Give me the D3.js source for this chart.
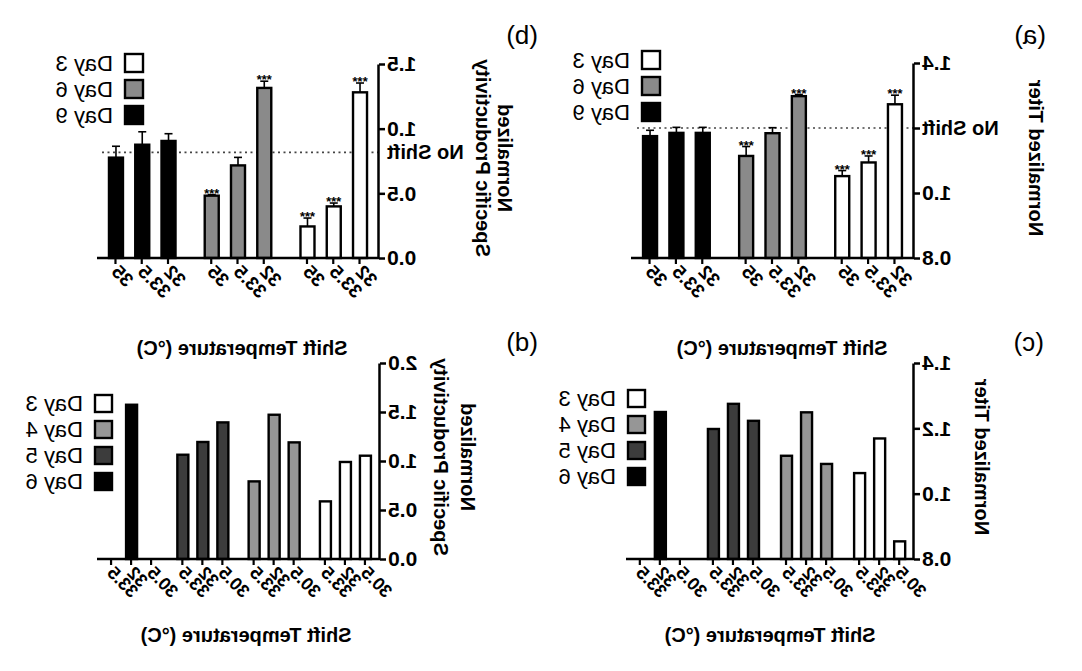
<!DOCTYPE html>
<html>
<head>
<meta charset="utf-8">
<script src="https://cdn.jsdelivr.net/npm/d3@7"></script>
<style>
  body { margin: 0; background: #fff; }
  svg text { font-family: Arial, "Liberation Sans", sans-serif; }
</style>
</head>
<body>
<div id="chart"></div>
<script>
// Env params
const W = 1082, H = 671;

// data: top row (error bars, 3 days)
const tempsTop = ["32", "33.5", "35"];
const daysTop = ["Day 3", "Day 6", "Day 9"];
const titerTop = [[1.273, 1.094, 1.052], [1.298, 1.184, 1.114], [1.185, 1.185, 1.175]];
const titerTopErr = [[0.028, 0.02, 0.017], [0.005, 0.017, 0.029], [0.017, 0.017, 0.018]];
const titerTopStar = [[1, 1, 1], [1, 0, 1], [0, 0, 0]];
const prodTop = [[1.281, 0.399, 0.244], [1.315, 0.716, 0.482], [0.905, 0.876, 0.776]];
const prodTopErr = [[0.072, 0.026, 0.065], [0.052, 0.062, 0.008], [0.056, 0.10, 0.088]];
const prodTopStar = [[1, 1, 1], [1, 0, 1], [0, 0, 0]];

// data: bottom row (4 days, no error bars)
const tempsBot = ["30.5", "32", "33.5"];
const daysBot = ["Day 3", "Day 4", "Day 5", "Day 6"];
const titerBot = [[0.854, 1.169, 1.063], [1.091, 1.249, 1.116], [1.223, 1.275, 1.198], [null, 1.25, null]];
const prodBot = [[1.054, 0.99, 0.588], [1.19, 1.472, 0.792], [1.394, 1.194, 1.064], [null, 1.574, null]];

const fillTop = ["#ffffff", "#8a8a8a", "#000000"];
const fillBot = ["#ffffff", "#969696", "#3c3c3c", "#000000"];

// draw svg canvas (the whole figure is mirrored left-right)
var svg = d3.select("#chart").append("svg")
  .attr("width", W)
  .attr("height", H)
  .style("background", "#fff");

var root = svg.append("g")
  .attr("transform", `translate(${W},0) scale(-1,1)`);

function draw_panel(cfg) {
  var g = root.append("g");

  var y = d3.scaleLinear().domain(cfg.domain).range([cfg.yBot, cfg.yTop]);
  var outer = d3.scaleBand().domain(cfg.days).range([cfg.x0, cfg.x1])
    .paddingInner(cfg.pi).paddingOuter(cfg.po);
  var inner = d3.scalePoint().domain(cfg.temps).range([0, outer.bandwidth()]).padding(0.5);

  // no shift line
  if (cfg.ns != null) {
    g.append("line")
      .attr("x1", cfg.x0).attr("x2", cfg.nsEnd)
      .attr("y1", y(cfg.ns)).attr("y2", y(cfg.ns))
      .attr("stroke", "#444").attr("stroke-width", 1.6)
      .attr("stroke-dasharray", "2,3.5");
  }

  cfg.days.forEach(function(day, i) {
    var gg = g.append("g").attr("transform", `translate(${outer(day)},0)`);
    var rows = cfg.temps.map(function(t, j) {
      return {
        t: t,
        v: cfg.values[i][j],
        e: cfg.errs ? cfg.errs[i][j] : 0,
        s: cfg.stars ? cfg.stars[i][j] : 0
      };
    }).filter(d => d.v != null);

    // error bars
    if (cfg.errs) {
      gg.selectAll(".err").data(rows).join("line")
        .attr("class", "err")
        .attr("x1", d => inner(d.t)).attr("x2", d => inner(d.t))
        .attr("y1", d => y(d.v)).attr("y2", d => y(d.v + d.e))
        .attr("stroke", "#000").attr("stroke-width", 1.6);
      gg.selectAll(".cap").data(rows).join("line")
        .attr("class", "cap")
        .attr("x1", d => inner(d.t) - 4).attr("x2", d => inner(d.t) + 4)
        .attr("y1", d => y(d.v + d.e)).attr("y2", d => y(d.v + d.e))
        .attr("stroke", "#000").attr("stroke-width", 1.6);
    }

    gg.selectAll("rect").data(rows).join("rect")
      .attr("x", d => inner(d.t) - cfg.bw / 2)
      .attr("y", d => y(d.v))
      .attr("width", cfg.bw)
      .attr("height", d => cfg.yBot - y(d.v))
      .attr("fill", cfg.fills[i])
      .attr("stroke", "#000")
      .attr("stroke-width", 2.4);

    // significance stars
    gg.selectAll(".star").data(rows.filter(d => d.s)).join("text")
      .attr("class", "star")
      .attr("x", d => inner(d.t))
      .attr("y", d => y(d.v + d.e) + 3)
      .attr("text-anchor", "middle")
      .style("font-size", "13px")
      .style("font-weight", "bold")
      .text("***");

    // x ticks of this group
    var ax = gg.append("g")
      .attr("transform", `translate(0,${cfg.yBot})`)
      .call(d3.axisBottom(inner).tickSize(6).tickSizeOuter(0));
    ax.select(".domain").remove();
    ax.selectAll(".tick line").attr("stroke-width", 2.2);
    ax.selectAll(".tick text")
      .attr("y", 0).attr("dy", 0)
      .attr("transform", "translate(5,15) rotate(-45)")
      .attr("text-anchor", "end")
      .style("font-size", cfg.xfs + "px")
      .style("font-weight", "bold")
      .attr("fill", "#000");
  });

  // baseline
  g.append("line")
    .attr("x1", cfg.x0).attr("x2", cfg.x1)
    .attr("y1", cfg.yBot).attr("y2", cfg.yBot)
    .attr("stroke", "#000").attr("stroke-width", 2.5);

  // y axis
  var yax = g.append("g")
    .attr("transform", `translate(${cfg.x0},0)`)
    .call(d3.axisLeft(y).tickValues(cfg.ticks)
      .tickFormat(d => (cfg.ns === d && cfg.nsTick) ? "" : d3.format(".1f")(d))
      .tickSize(6).tickSizeOuter(0).tickPadding(2));
  yax.select(".domain").attr("stroke-width", 2.5);
  yax.selectAll(".tick line").attr("stroke-width", 2.5);
  yax.selectAll(".tick text")
    .style("font-size", "21px")
    .style("font-weight", "bold")
    .attr("fill", "#000");

  if (cfg.ns != null) {
    g.append("text")
      .attr("x", cfg.x0 - 8)
      .attr("y", y(cfg.ns))
      .attr("dy", "0.35em")
      .attr("text-anchor", "end")
      .style("font-size", "20px")
      .style("font-weight", "bold")
      .text("No Shift");
  }

  // y label
  cfg.ylabel.forEach(function(t, k) {
    g.append("text")
      .attr("transform", `translate(${cfg.ylabelX[k]},${cfg.ylabelY}) rotate(-90)`)
      .attr("text-anchor", "middle")
      .attr("dy", "0.35em")
      .style("font-size", "20px")
      .style("font-weight", "bold")
      .text(t);
  });

  // x titles
  cfg.titles.forEach(function(p) {
    g.append("text")
      .attr("x", p[0]).attr("y", p[1])
      .attr("dy", "0.35em")
      .attr("text-anchor", "middle")
      .style("font-size", "20px")
      .style("font-weight", "bold")
      .text("Shift Temperature (°C)");
  });

  // legend
  var leg = g.append("g");
  cfg.days.forEach(function(day, i) {
    var ly = cfg.legY + i * cfg.legStep;
    leg.append("rect")
      .attr("x", cfg.legX).attr("y", ly)
      .attr("width", cfg.legSize).attr("height", cfg.legSize)
      .attr("fill", cfg.fills[i]).attr("stroke", "#000").attr("stroke-width", 2.4);
    leg.append("text")
      .attr("x", cfg.legX + cfg.legSize + 12)
      .attr("y", ly + cfg.legSize / 2)
      .attr("dy", "0.36em")
      .style("font-size", "22px")
      .text(day);
  });

  // panel label
  g.append("text")
    .attr("x", cfg.lab[0]).attr("y", cfg.lab[1])
    .attr("dy", "0.35em")
    .style("font-size", "26px")
    .text(cfg.label);
}

// (a) normalized titer
draw_panel({
  x0: 168, x1: 451, yTop: 63, yBot: 258, domain: [0.8, 1.4],
  ticks: [0.8, 1.0, 1.2, 1.4], ns: 1.2, nsTick: true, nsEnd: 447,
  days: daysTop, temps: tempsTop, values: titerTop, errs: titerTopErr, stars: titerTopStar,
  fills: fillTop, pi: 0.177, po: 0.061, bw: 14, xfs: 19,
  legX: 422, legY: 51, legStep: 26, legSize: 18,
  ylabel: ["Normalized Titer"], ylabelX: [46], ylabelY: 158,
  titles: [[300, 348]], label: "(a)", lab: [36, 35]
});

// (b) normalized specific productivity
draw_panel({
  x0: 703, x1: 985, yTop: 64, yBot: 258, domain: [0, 1.5],
  ticks: [0, 0.5, 1.0, 1.5], ns: 0.817, nsTick: false, nsEnd: 980,
  days: daysTop, temps: tempsTop, values: prodTop, errs: prodTopErr, stars: prodTopStar,
  fills: fillTop, pi: 0.177, po: 0.061, bw: 14, xfs: 19,
  legX: 939, legY: 54, legStep: 26, legSize: 18,
  ylabel: ["Normalized", "Specific Productivity"], ylabelX: [577, 599], ylabelY: 158,
  titles: [[840, 348]], label: "(b)", lab: [544, 35]
});

// (c) normalized titer, bottom
draw_panel({
  x0: 168, x1: 456, yTop: 363, yBot: 559, domain: [0.8, 1.4],
  ticks: [0.8, 1.0, 1.2, 1.4], ns: null,
  days: daysBot, temps: tempsBot, values: titerBot, errs: null, stars: null,
  fills: fillBot, pi: 0.178, po: 0.059, bw: 11, xfs: 18,
  legX: 437, legY: 390, legStep: 26, legSize: 17,
  ylabel: ["Normalized Titer"], ylabelX: [100], ylabelY: 457,
  titles: [[312, 635]], label: "(c)", lab: [38, 342]
});

// (d) normalized specific productivity, bottom
draw_panel({
  x0: 702, x1: 985, yTop: 363, yBot: 559, domain: [0, 2.0],
  ticks: [0, 0.5, 1.0, 1.5, 2.0], ns: null,
  days: daysBot, temps: tempsBot, values: prodBot, errs: null, stars: null,
  fills: fillBot, pi: 0.158, po: 0.064, bw: 11, xfs: 18,
  legX: 970, legY: 395, legStep: 26, legSize: 17,
  ylabel: ["Normalized", "Specific Productivity"], ylabelX: [614, 641], ylabelY: 457,
  titles: [[836, 635]], label: "(d)", lab: [544, 342]
});
</script>
</body>
</html>
